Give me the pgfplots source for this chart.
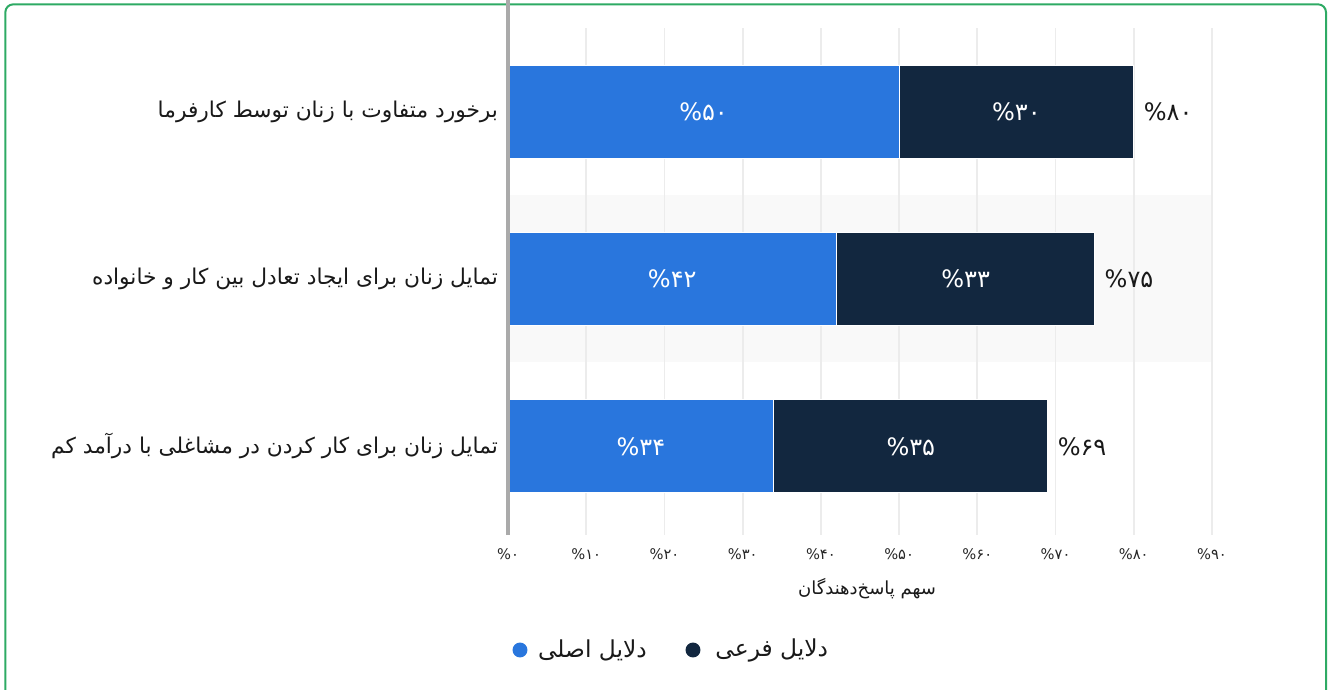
\documentclass[border=0pt]{standalone}
\usepackage{fontspec}
\setmainfont{DejaVu Sans}
\newfontfamily\arabicfont[Script=Arabic]{DejaVu Sans}
\TeXXeTstate=1
\usepackage{pgfplots}
\pgfplotsset{compat=1.18}

\definecolor{cblue}{RGB}{41,118,221}
\definecolor{cdark}{RGB}{18,39,63}
\definecolor{framegreen}{RGB}{46,170,100}
\definecolor{axisgray}{RGB}{170,170,170}
\definecolor{gridgray}{RGB}{236,236,236}

\pgfplotsset{
  base/.style={
    at={(381pt,115.5pt)}, anchor=south west,
    scale only axis, width=528pt, height=380.25pt,
    xmin=0, xmax=90, ymin=-0.53, ymax=2.5,
  }
}

\begin{document}
\begin{tikzpicture}
\useasboundingbox (0,0) rectangle (997.5pt,516.75pt);
\clip (0,0) rectangle (997.5pt,516.75pt);
\draw[framegreen, line width=1.5pt, rounded corners=6pt] (4pt,-10pt) rectangle (994.5pt,513.5pt);
% faint band behind the middle row
\fill[black!2.5] (381pt,245.25pt) rectangle (909pt,370.5pt);

\begin{axis}[base,
  xbar stacked, bar width=69.75pt,
  axis line style={draw=none},
  major tick length=0pt,
  xtick={0,10,...,90},
  xticklabels={\%۰,\%۱۰,\%۲۰,\%۳۰,\%۴۰,\%۵۰,\%۶۰,\%۷۰,\%۸۰,\%۹۰},
  xticklabel style={font=\arabicfont\fontsize{11}{13}\selectfont, text=black!85, anchor=center, yshift=-14pt},
  ytick={0,1,2},
  yticklabels={
    {\beginR تمایل زنان برای کار کردن در مشاغلی با درآمد کم\endR},
    {\beginR تمایل زنان برای ایجاد تعادل بین کار و خانواده\endR},
    {\beginR برخورد متفاوت با زنان توسط کارفرما\endR}},
  yticklabel style={font=\arabicfont\fontsize{16.3}{18}\selectfont, text=black!90, anchor=east, xshift=-4pt},
  xmajorgrids, grid style={gridgray, line width=1.3pt},
  xlabel={\beginR سهم پاسخ‌دهندگان\endR},
  xlabel style={font=\arabicfont\fontsize{13.5}{15}\selectfont, text=black!90, at={(axis description cs:0.51,0)}, anchor=center, yshift=-40pt},
]
\addplot[fill=cblue, draw=white, line width=0.8pt] coordinates {(34,0) (42,1) (50,2)};
\addplot[fill=cdark, draw=white, line width=0.8pt] coordinates {(35,0) (33,1) (30,2)};
\end{axis}
\draw[axisgray, line width=3pt] (381pt,115.5pt) -- (381pt,517pt);

\begin{axis}[base, axis line style={draw=none}, xtick=\empty, ytick=\empty, clip=false]
\addplot[only marks, mark=*, mark options={draw opacity=0, fill opacity=0}, nodes near coords, point meta=explicit symbolic,
  every node near coord/.style={anchor=center, text=white, text opacity=1, font=\arabicfont\fontsize{18}{20}\selectfont}]
  coordinates {(17,0) [\%۳۴] (21,1) [\%۴۲] (25,2) [\%۵۰] (51.5,0) [\%۳۵] (58.5,1) [\%۳۳] (65,2) [\%۳۰]};
\addplot[only marks, mark=*, mark options={draw opacity=0, fill opacity=0}, nodes near coords, point meta=explicit symbolic,
  every node near coord/.style={anchor=west, xshift=4pt, text=black!90, text opacity=1, font=\arabicfont\fontsize{18}{20}\selectfont}]
  coordinates {(69,0) [\%۶۹] (75,1) [\%۷۵] (80,2) [\%۸۰]};
\end{axis}

% legend
\fill[cblue] (390pt,29.25pt) circle (5.6pt);
\node[anchor=west, font=\arabicfont\fontsize{17.5}{19}\selectfont, text=black!90] at (400pt,29.25pt) {\beginR دلایل اصلی\endR};
\fill[cdark] (519.75pt,29.25pt) circle (5.6pt);
\node[anchor=west, font=\arabicfont\fontsize{17.5}{19}\selectfont, text=black!90] at (533pt,29.25pt) {\beginR دلایل فرعی\endR};
\end{tikzpicture}
\end{document}
